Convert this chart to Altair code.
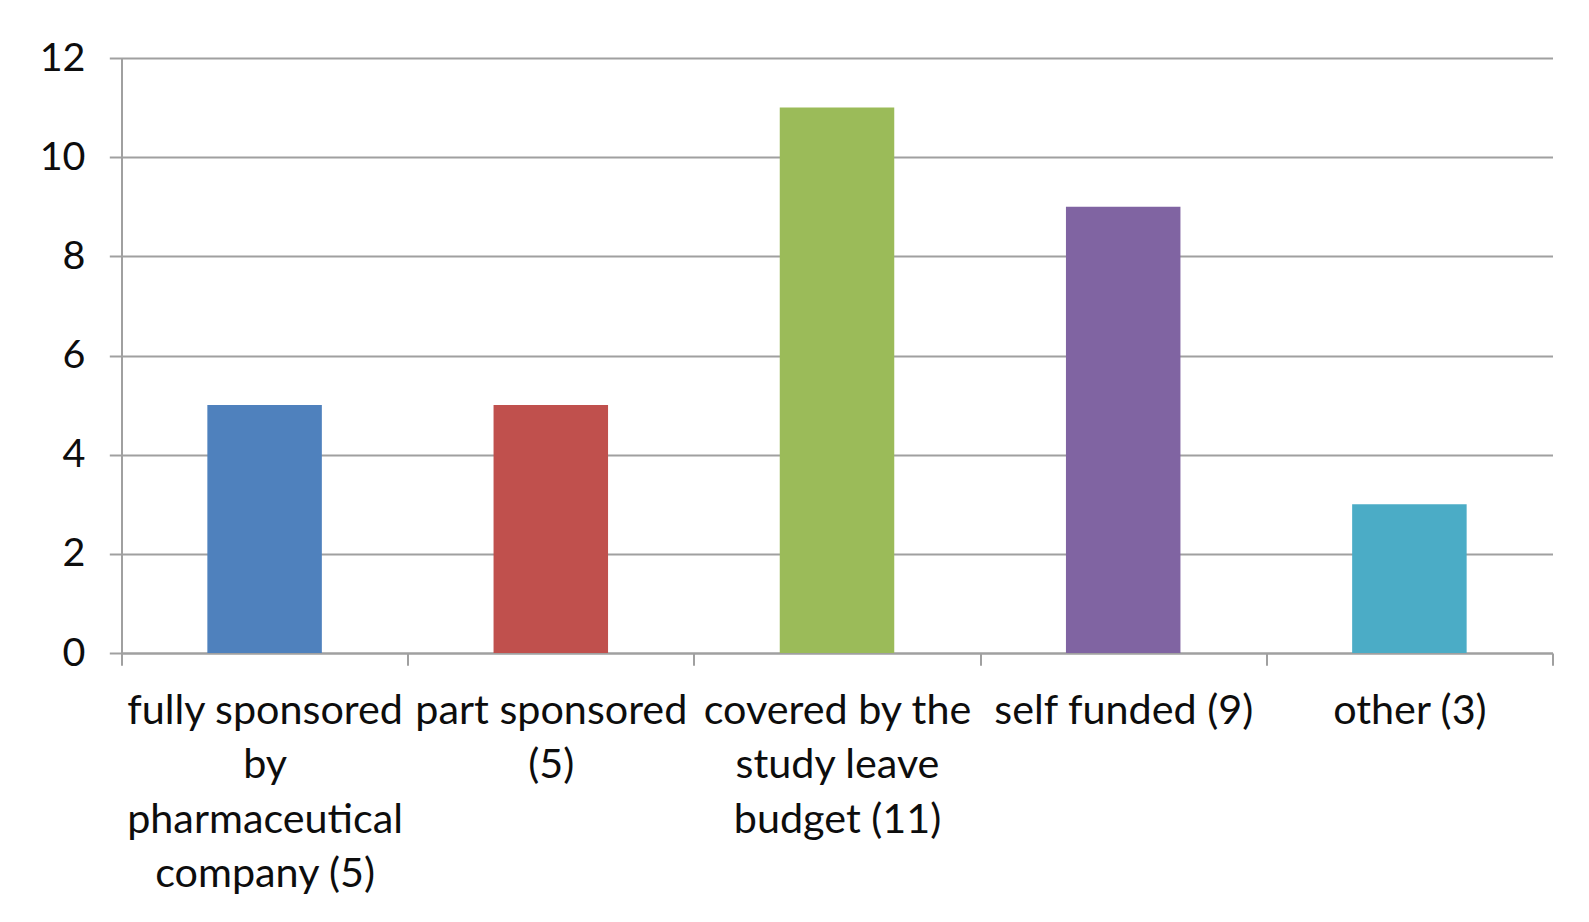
import altair as alt
import pandas as pd

categories = [
    "fully sponsored\nby\npharmaceutical\ncompany (5)",
    "part sponsored\n(5)",
    "covered by the\nstudy leave\nbudget (11)",
    "self funded (9)",
    "other (3)",
]
values = [5, 5, 11, 9, 3]
colors = ["#4F81BD", "#C0504D", "#9BBB59", "#8064A2", "#4BACC6"]
y_ticks = [0, 2, 4, 6, 8, 10, 12]

df = pd.DataFrame({"category": categories, "value": values})

FONT = "Lato"
GRAY = "#A0A0A0"

bars = alt.Chart(df).mark_bar(size=114.5).encode(
    x=alt.X(
        "category:N",
        sort=categories,
        title=None,
        scale=alt.Scale(paddingInner=0, paddingOuter=0),
        axis=alt.Axis(
            labelAngle=0,
            labelExpr="split(datum.label, '\\n')",
            labelFont=FONT,
            labelFontSize=41.3,
            labelColor="#0D0D0D",
            labelLineHeight=54.2,
            labelPadding=25.5,
            labelLimit=0,
            tickBand="extent",
            tickSize=12.2,
            tickColor=GRAY,
            tickWidth=2,
            domainColor=GRAY,
            domainWidth=2,
            grid=False,
        ),
    ),
    y=alt.Y(
        "value:Q",
        title=None,
        scale=alt.Scale(domain=[0, 12], nice=False),
        axis=alt.Axis(
            values=y_ticks,
            labelFont=FONT,
            labelFontSize=39.5,
            labelColor="#0D0D0D",
            labelPadding=24.3,
            tickSize=12.2,
            tickColor=GRAY,
            tickWidth=2,
            domainColor=GRAY,
            domainWidth=2,
            gridColor=GRAY,
            gridWidth=2,
        ),
    ),
    color=alt.Color("category:N", sort=categories, scale=alt.Scale(domain=categories, range=colors), legend=None),
)

chart = bars.properties(
    width=1431,
    height=595,
    autosize=alt.AutoSizeParams(type="none"),
    padding={"left": 113.5, "top": 50, "right": 28, "bottom": 256},
    background="white",
).configure_view(stroke=None)

chart.save("out.html", embed_options={"renderer": "svg", "actions": False})
